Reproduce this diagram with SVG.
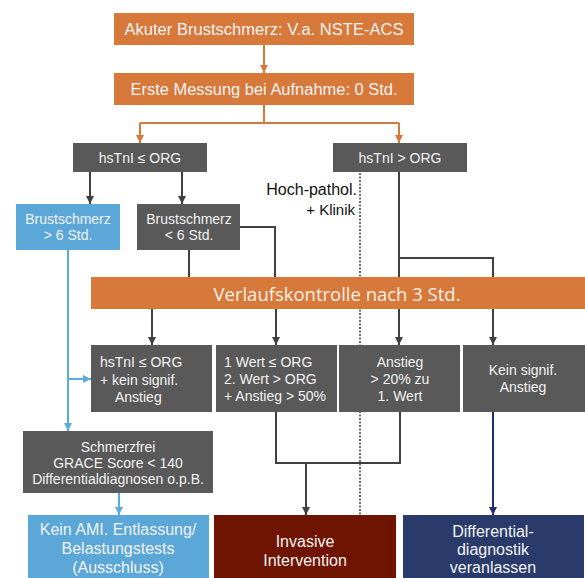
<svg xmlns="http://www.w3.org/2000/svg" width="585" height="578" viewBox="0 0 585 578">
<defs>
<style>
.t{font-family:"Liberation Sans",Arial,sans-serif;font-size:14px;fill:#F2F2F2}
.c{text-anchor:middle}
.o{fill:#D6793A}
.g{fill:#595959}
.lo{stroke:#D6793A;stroke-width:2;fill:none}
.lg{stroke:#404040;stroke-width:2;fill:none}
.lb{stroke:#5AAADB;stroke-width:2;fill:none}
.ln{stroke:#1F2F6B;stroke-width:2;fill:none}
.ld{stroke:#6E6E6E;stroke-width:2;stroke-dasharray:2 1.5;fill:none}
</style>
<marker id="ao" viewBox="0 0 10 10" refX="10" refY="5" markerWidth="4" markerHeight="4" orient="auto" markerUnits="strokeWidth"><path d="M0,0L10,5L0,10z" fill="#D6793A"/></marker>
<marker id="ag" viewBox="0 0 10 10" refX="10" refY="5" markerWidth="4" markerHeight="4" orient="auto" markerUnits="strokeWidth"><path d="M0,0L10,5L0,10z" fill="#404040"/></marker>
<marker id="ab" viewBox="0 0 10 10" refX="10" refY="5" markerWidth="4" markerHeight="4" orient="auto" markerUnits="strokeWidth"><path d="M0,0L10,5L0,10z" fill="#5AAADB"/></marker>
<marker id="an" viewBox="0 0 10 10" refX="10" refY="5" markerWidth="4" markerHeight="4" orient="auto" markerUnits="strokeWidth"><path d="M0,0L10,5L0,10z" fill="#1F2F6B"/></marker>
</defs>
<rect width="585" height="578" fill="#FFFFFF"/>
<g id="connectors">
<path class="lo" d="M264,45V73" marker-end="url(#ao)"/>
<path class="lo" d="M264,105V123M140,123H399"/>
<path class="lo" d="M140,123V143" marker-end="url(#ao)"/>
<path class="lo" d="M399,123V143" marker-end="url(#ao)"/>
<path class="lg" d="M90,172V204" marker-end="url(#ag)"/>
<path class="lg" d="M182,172V204" marker-end="url(#ag)"/>
<path class="lg" d="M240,227H275V278"/>
<path class="lg" d="M189,250V278"/>
<path class="lg" d="M399,172V278M399,258H493V278"/>
<path class="ld" d="M360,173V515"/>
<path class="lg" d="M152,309V345" marker-end="url(#ag)"/>
<path class="lg" d="M276,309V345" marker-end="url(#ag)"/>
<path class="lg" d="M399,309V345" marker-end="url(#ag)"/>
<path class="lg" d="M493,309V345" marker-end="url(#ag)"/>
<path class="lb" d="M68,250V431" marker-end="url(#ab)"/>
<path class="lb" d="M68,379H91" marker-end="url(#ab)"/>
<path class="lb" d="M119,493V515" marker-end="url(#ab)"/>
<path class="lg" d="M276,412V463H400V412"/>
<path class="lg" d="M306,463V515" marker-end="url(#ag)"/>
<path class="ln" d="M493,412V515" marker-end="url(#an)"/>
</g>
<g id="n1"><rect class="o" x="114" y="13" width="300" height="32"/><text class="t c" x="264" y="35" style="font-size:16px" textLength="279" lengthAdjust="spacingAndGlyphs">Akuter Brustschmerz: V.a. NSTE-ACS</text></g>
<g id="n2"><rect class="o" x="114" y="73" width="300" height="32"/><text class="t c" x="264" y="95" style="font-size:16px" textLength="267" lengthAdjust="spacingAndGlyphs">Erste Messung bei Aufnahme: 0 Std.</text></g>
<g id="n3"><rect class="g" x="73" y="143" width="134" height="29"/><text class="t c" x="140" y="163">hsTnI ≤ ORG</text></g>
<g id="n4"><rect class="g" x="333" y="143" width="134" height="29"/><text class="t c" x="400" y="163">hsTnI &gt; ORG</text></g>
<g id="lbl"><text x="357" y="195" text-anchor="end" style="font-family:'Liberation Sans',Arial,sans-serif;font-size:16px;fill:#111">Hoch-pathol.</text><text x="355" y="215" text-anchor="end" style="font-family:'Liberation Sans',Arial,sans-serif;font-size:15px;fill:#111">+ Klinik</text></g>
<g id="n5"><rect x="16" y="204" width="104" height="46" fill="#5AA7D8"/><text class="t c" x="68" y="224">Brustschmerz</text><text class="t c" x="68" y="240">&gt; 6 Std.</text></g>
<g id="n6"><rect class="g" x="137" y="204" width="103" height="46"/><text class="t c" x="189" y="224">Brustschmerz</text><text class="t c" x="189" y="240">&lt; 6 Std.</text></g>
<g id="n7"><rect class="o" x="91" y="277" width="494" height="32"/><text x="337" y="301" text-anchor="middle" textLength="247" lengthAdjust="spacingAndGlyphs" style="font-family:'Open Sans',sans-serif;font-size:19px;fill:#FBEFE6">Verlaufskontrolle nach 3 Std.</text></g>
<g id="n8"><rect class="g" x="91" y="345" width="121" height="67"/><text class="t" x="100" y="367">hsTnI ≤ ORG</text><text class="t" x="100" y="385">+ kein signif.</text><text class="t" x="115" y="402">Anstieg</text></g>
<g id="n9"><rect class="g" x="216" y="345" width="121" height="67"/><text class="t" x="224" y="367">1 Wert ≤ ORG</text><text class="t" x="224" y="384">2. Wert &gt; ORG</text><text class="t" x="224" y="401">+ Anstieg &gt; 50%</text></g>
<g id="n10"><rect class="g" x="339" y="345" width="121" height="67"/><text class="t c" x="400" y="367">Anstieg</text><text class="t c" x="400" y="384">&gt; 20% zu</text><text class="t c" x="400" y="401">1. Wert</text></g>
<g id="n11"><rect class="g" x="463" y="345" width="122" height="67"/><text class="t c" x="523" y="375">Kein signif.</text><text class="t c" x="523" y="392">Anstieg</text></g>
<g id="n12"><rect class="g" x="23" y="431" width="190" height="62"/><text class="t c" x="118" y="452">Schmerzfrei</text><text class="t c" x="118" y="468">GRACE Score &lt; 140</text><text class="t c" x="118" y="484">Differentialdiagnosen o.p.B.</text></g>
<g id="n13"><rect x="28" y="515" width="181" height="63" fill="#5AA7D8"/><text class="t c" x="118" y="535" style="font-size:16px">Kein AMI. Entlassung/</text><text class="t c" x="118" y="554" style="font-size:16px">Belastungstests</text><text class="t c" x="118" y="573" style="font-size:16px">(Ausschluss)</text></g>
<g id="n14"><rect x="214" y="515" width="182" height="63" fill="#6E1400"/><text class="t c" x="305" y="547" style="font-size:16px">Invasive</text><text class="t c" x="305" y="566" style="font-size:16px">Intervention</text></g>
<g id="n15"><rect x="403" y="515" width="181" height="63" fill="#2A3B6B"/><text class="t c" x="493" y="537" style="font-size:16px">Differential-</text><text class="t c" x="493" y="555" style="font-size:16px">diagnostik</text><text class="t c" x="493" y="573" style="font-size:16px">veranlassen</text></g>
</svg>
